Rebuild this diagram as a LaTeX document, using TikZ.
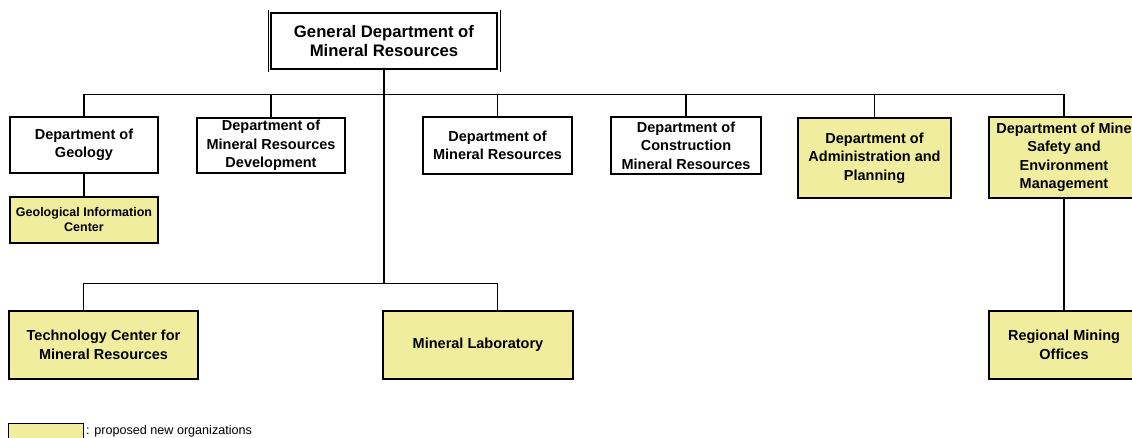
\documentclass[tikz,border=0pt]{standalone}
\usepackage{fontspec}
\setmainfont{Liberation Sans}
\begin{document}
\begin{tikzpicture}[x=1pt,y=-1pt,
  box/.style={draw=black, line width=2.8pt, fill=white, inner sep=0pt, align=center,
    font=\bfseries\fontsize{14.5}{18.5}\selectfont},
  newbox/.style={box, fill=propfill},
  link/.style={line width=1.3pt},
  thinlink/.style={line width=0.9pt}]
\definecolor{propfill}{RGB}{240,238,158}
\useasboundingbox (0,0) rectangle (1132,437);

% head office
\node[box, line width=2.4pt, minimum width=226pt, minimum height=56pt,
  font=\bfseries\fontsize{16.7}{19.5}\selectfont] (gdmr) at (384,41)
  {General Department of\\Mineral Resources};
\draw[line width=0.7pt] ([xshift=-1.8pt,yshift=1.5pt]gdmr.north west) -- ([xshift=-1.8pt,yshift=-1.5pt]gdmr.south west);
\draw[line width=0.7pt] ([xshift=1.8pt,yshift=1.5pt]gdmr.north east) -- ([xshift=1.8pt,yshift=-1.5pt]gdmr.south east);

% departments
\node[box, minimum width=148pt, minimum height=56pt] (geo) at (84,145) {Department of\\Geology};
\node[box, minimum width=148pt, minimum height=55pt] (mrd) at (271,145.5) {Department of\\Mineral Resources\\Development};
\node[box, minimum width=149pt, minimum height=57pt] (mr) at (497.5,145.5) {Department of\\Mineral Resources};
\node[box, minimum width=150pt, minimum height=57pt] (cmr) at (686,145.5) {Department of\\Construction\\Mineral Resources};
\node[newbox, minimum width=153pt, minimum height=80pt] (adm) at (874.5,158) {Department of\\Administration and\\Planning};
\node[newbox, minimum width=150pt, minimum height=81pt] (mse) at (1064,157.5) {Department of Mine\\Safety and\\Environment\\Management};

% units below
\node[newbox, minimum width=148pt, minimum height=46pt,
  font=\bfseries\fontsize{12.5}{15}\selectfont] (gic) at (84,220) {Geological Information\\Center};
\node[newbox, minimum width=189pt, minimum height=68pt] (tcmr) at (103.5,345) {Technology Center for\\Mineral Resources};
\node[newbox, minimum width=190pt, minimum height=68pt] (ml) at (478,345) {Mineral Laboratory};
\node[newbox, minimum width=150pt, minimum height=68pt] (rmo) at (1064,345) {Regional Mining\\Offices};

% legend
\node[draw=black, line width=1.2pt, fill=propfill, minimum width=75pt, minimum height=20pt,
  inner sep=0pt, anchor=north west] (key) at (8,423) {};
\node[anchor=west, inner sep=0pt, font=\fontsize{12.6}{14}\selectfont] (keytext) at (86,431)
  {: proposed new organizations};

% upper bus
\coordinate (ub) at (384,94);
\draw[thinlink] (geo.north |- ub) -- (mse.north |- ub);
\foreach \d in {geo,mrd,mr,cmr,adm,mse}
  \draw[link] (\d.north) -- (\d.north |- ub);
\draw[link, line width=1.8pt] (geo.south) -- (gic.north);

% trunk and lower bus
\coordinate (lbl) at (83,283);
\coordinate (lbr) at (497,283);
\draw[line width=2pt] (gdmr.south) -- (gdmr.south |- lbl);
\draw[thinlink] (tcmr.north -| lbl) -- (lbl) -- (lbr) -- (ml.north -| lbr);
\draw[link] (mse.south) -- (rmo.north);
\end{tikzpicture}
\end{document}
